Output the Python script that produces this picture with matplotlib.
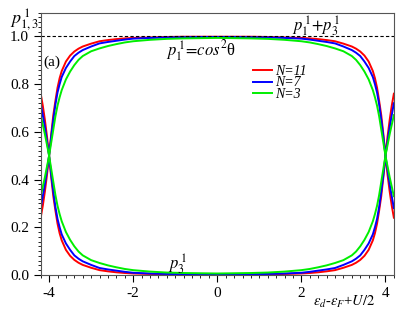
import matplotlib
matplotlib.use("Agg")
import matplotlib.pyplot as plt
from matplotlib.ticker import MultipleLocator

plt.rcParams["font.family"] = "serif"
plt.rcParams["font.serif"] = ["Liberation Serif", "DejaVu Serif"]
plt.rcParams["mathtext.fontset"] = "stix"
plt.rcParams["axes.unicode_minus"] = False

# energy axis: eps_d - eps_F + U/2
x = [-4.2, -4.15, -4.1, -4.05, -4.0, -3.95, -3.9, -3.85, -3.8, -3.75, -3.7,
     -3.6, -3.5, -3.4, -3.3, -3.2, -3.0, -2.8, -2.6, -2.4, -2.2, -2.0, -1.6,
     -1.2, -0.8, -0.4, 0.0, 0.4, 0.8, 1.2, 1.6, 2.0, 2.2, 2.4, 2.6, 2.8, 3.0,
     3.2, 3.3, 3.4, 3.5, 3.6, 3.7, 3.75, 3.8, 3.85, 3.9, 3.95, 4.0, 4.05, 4.1,
     4.15, 4.2]

# p_1^1 (upper curves)
p1_n11 = [0.76, 0.71, 0.65, 0.58, 0.50, 0.59, 0.67, 0.73, 0.785, 0.825, 0.855,
          0.895, 0.920, 0.937, 0.949, 0.958, 0.970, 0.980, 0.985, 0.989, 0.992,
          0.994, 0.996, 0.998, 0.999, 0.999, 0.999, 0.999, 0.999, 0.998, 0.996,
          0.994, 0.992, 0.989, 0.985, 0.980, 0.970, 0.958, 0.949, 0.937, 0.920,
          0.895, 0.855, 0.825, 0.785, 0.73, 0.67, 0.59, 0.50, 0.58, 0.65, 0.71,
          0.76]
p1_n7 = [0.72, 0.67, 0.62, 0.56, 0.50, 0.58, 0.65, 0.715, 0.765, 0.80, 0.83,
         0.868, 0.895, 0.918, 0.932, 0.943, 0.958, 0.971, 0.977, 0.982, 0.987,
         0.991, 0.994, 0.996, 0.997, 0.998, 0.998, 0.998, 0.997, 0.996, 0.994,
         0.991, 0.987, 0.982, 0.977, 0.971, 0.958, 0.943, 0.932, 0.918, 0.895,
         0.868, 0.83, 0.80, 0.765, 0.715, 0.65, 0.58, 0.50, 0.56, 0.62, 0.67,
         0.72]
p1_n3 = [0.67, 0.63, 0.59, 0.545, 0.50, 0.555, 0.61, 0.665, 0.71, 0.745, 0.775,
         0.82, 0.853, 0.88, 0.902, 0.918, 0.938, 0.950, 0.960, 0.968, 0.975,
         0.980, 0.986, 0.990, 0.992, 0.993, 0.994, 0.993, 0.992, 0.990, 0.986,
         0.980, 0.975, 0.968, 0.960, 0.950, 0.938, 0.918, 0.902, 0.88, 0.853,
         0.82, 0.775, 0.745, 0.71, 0.665, 0.61, 0.555, 0.50, 0.545, 0.59, 0.63,
         0.67]

# p_3^1 (lower curves)
p3_n11 = [0.24, 0.29, 0.35, 0.42, 0.50, 0.41, 0.33, 0.27, 0.215, 0.175, 0.145,
          0.105, 0.080, 0.063, 0.051, 0.042, 0.030, 0.020, 0.015, 0.011, 0.008,
          0.006, 0.004, 0.002, 0.001, 0.001, 0.001, 0.001, 0.001, 0.002, 0.004,
          0.006, 0.008, 0.011, 0.015, 0.020, 0.030, 0.042, 0.051, 0.063, 0.080,
          0.105, 0.145, 0.175, 0.215, 0.27, 0.33, 0.41, 0.50, 0.42, 0.35, 0.29,
          0.24]
p3_n7 = [0.28, 0.33, 0.38, 0.44, 0.50, 0.42, 0.35, 0.285, 0.235, 0.20, 0.17,
         0.132, 0.105, 0.082, 0.068, 0.057, 0.042, 0.029, 0.023, 0.018, 0.013,
         0.009, 0.006, 0.004, 0.003, 0.002, 0.002, 0.002, 0.003, 0.004, 0.006,
         0.009, 0.013, 0.018, 0.023, 0.029, 0.042, 0.057, 0.068, 0.082, 0.105,
         0.132, 0.17, 0.20, 0.235, 0.285, 0.35, 0.42, 0.50, 0.44, 0.38, 0.33,
         0.28]
p3_n3 = [0.33, 0.37, 0.41, 0.455, 0.50, 0.445, 0.39, 0.335, 0.29, 0.255, 0.225,
         0.18, 0.147, 0.12, 0.098, 0.082, 0.062, 0.050, 0.040, 0.032, 0.025,
         0.020, 0.014, 0.010, 0.008, 0.007, 0.006, 0.007, 0.008, 0.010, 0.014,
         0.020, 0.025, 0.032, 0.040, 0.050, 0.062, 0.082, 0.098, 0.12, 0.147,
         0.18, 0.225, 0.255, 0.29, 0.335, 0.39, 0.445, 0.50, 0.455, 0.41, 0.37,
         0.33]

series = [("N=11", "#ff0000", p1_n11, p3_n11),
          ("N=7", "#0000ff", p1_n7, p3_n7),
          ("N=3", "#00ee00", p1_n3, p3_n3)]

fig = plt.figure(figsize=(4.09, 3.16), dpi=100)
ax = fig.add_axes([0.0995, 0.13, 0.8635, 0.83])

for label, color, p1, p3 in series:
    ax.plot(x, p1, color=color, lw=1.4, label=label)
    ax.plot(x, p3, color=color, lw=1.4)

ax.axhline(1.0, color="black", lw=0.8, ls=(0, (3, 2)))

ax.set_xlim(-4.2, 4.2)
ax.set_ylim(0, 1.1)
ax.xaxis.set_major_locator(MultipleLocator(2))
ax.xaxis.set_minor_locator(MultipleLocator(0.2))
ax.yaxis.set_major_locator(MultipleLocator(0.2))
ax.yaxis.set_minor_locator(MultipleLocator(0.02))
ax.set_yticks([0, 0.2, 0.4, 0.6, 0.8, 1.0])
ax.set_yticklabels(["0.0", "0.2", "0.4", "0.6", "0.8", "1.0"])
ax.tick_params(which="major", length=5, width=0.8, labelsize=11)
ax.tick_params(which="minor", length=2.5, width=0.6)
for s in ax.spines.values():
    s.set_color("#555555")
    s.set_linewidth(0.8)

ax.text(-3.93, 0.89, "(a)", fontsize=11, ha="center", va="center")
ax.text(-0.39, 0.94, r"$p_1^{\,1}\!=\!cos^2$θ", fontsize=12,
        ha="center", va="center")
ax.text(2.36, 1.046, r"$p_1^{\,1}\!+\!p_3^{\,1}$", fontsize=12,
        ha="center", va="center")
ax.text(-0.94, 0.046, r"$p_3^{\,1}$", fontsize=12, ha="center", va="center")

leg = ax.legend(loc="center left", bbox_to_anchor=(0.6, 0.732), frameon=False,
                borderpad=0, borderaxespad=0, handlelength=1.4,
                handletextpad=0.2, labelspacing=-0.1,
                prop={"family": "Liberation Serif", "style": "italic", "size": 10})

fig.text(0.059, 0.937, r"$p_{1,3}^{\,1}$", fontsize=13, ha="center", va="center")
fig.text(0.917, 0.045, r"$\varepsilon_d$-$\varepsilon_F$+$U/2$", fontsize=10.5,
         ha="right", va="center")

fig.savefig("out.png", dpi=100)
